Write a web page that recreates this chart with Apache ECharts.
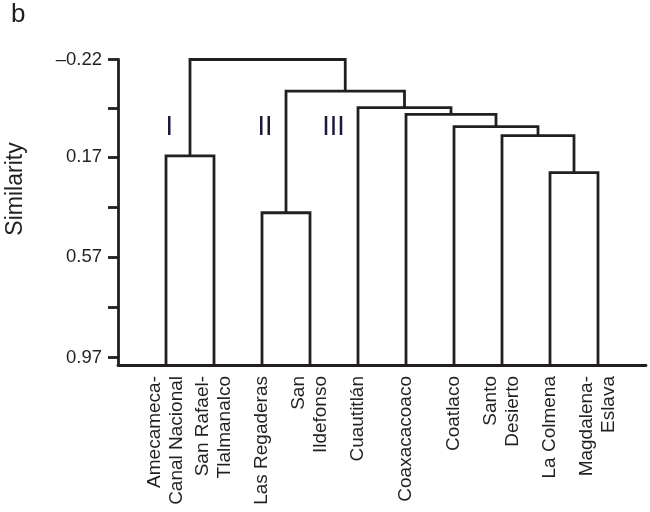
<!DOCTYPE html>
<html>
<head>
<meta charset="utf-8">
<script src="https://cdn.jsdelivr.net/npm/echarts@6/dist/echarts.min.js"></script>
<style>html,body{margin:0;padding:0;background:#fff}#chart{width:650px;height:512px}</style>
</head>
<body>
<div id="chart"></div>
<script>
const leafNames = ['Amecameca-\nCanal Nacional', 'San Rafael-\nTlalmanalco', 'Las Regaderas', 'San\nIldefonso', 'Cuautitlán', 'Coaxacacoaco', 'Coatlaco', 'Santo\nDesierto', 'La Colmena', 'Magdalena-\nEslava'];
// linkage: node ids 0..9 are leaves, 10.. are merges in order
const mergeLeft   = [8, 0, 2, 7, 6, 5, 4, 12, 11];
const mergeRight  = [9, 1, 3, 10, 13, 14, 15, 16, 17];
const mergeHeight = [0.232, 0.165, 0.392, 0.084, 0.048, -0.001, -0.0275, -0.094, -0.22];
const baseline = 1.0;
const tickValues = [-0.22, -0.025, 0.17, 0.37, 0.57, 0.77, 0.97];
const labelValues = [-0.22, 0.17, 0.57, 0.97];
const tickLabels = ['\u20130.22', '0.17', '0.57', '0.97'];
const clusterNames = ['I', 'II', 'III'];
const clusterX = [1.07, 3.06, 4.49];
const clusterY = [0.05, 0.05, 0.05];

const FONT = '"Liberation Sans", Arial, Helvetica, sans-serif';
const INK = '#231f20';

// build node positions from the linkage
const nodeX = leafNames.map((_, i) => i + 1);
const nodeY = leafNames.map(() => baseline);
const segs = [];
for (let i = 0; i < mergeLeft.length; i++) {
  const a = mergeLeft[i], b = mergeRight[i], h = mergeHeight[i];
  segs.push([nodeX[a], nodeY[a], nodeX[b], nodeY[b], h]);
  nodeX.push((nodeX[a] + nodeX[b]) / 2);
  nodeY.push(h);
}

const chart = echarts.init(document.getElementById('chart'), null, {renderer: 'canvas'});
chart.setOption({
  animation: false,
  backgroundColor: '#fff',
  grid: {left: 118, right: 4, top: 59.5, bottom: 147, containLabel: false},
  xAxis: {
    type: 'value', min: 0, max: 11, interval: 1,
    axisLine: {show: true, onZero: false, lineStyle: {color: INK, width: 2.8}},
    axisTick: {show: false},
    splitLine: {show: false},
    axisLabel: {
      customValues: leafNames.map((_, i) => i + 1),
      formatter: v => { const k = Math.round(v) - 1; return (k >= 0 && k < leafNames.length) ? leafNames[k] : ''; },
      rotate: 90, margin: 11, fontSize: 19, lineHeight: 22, color: INK, fontFamily: FONT,
      showMinLabel: true, showMaxLabel: true
    }
  },
  yAxis: {
    type: 'value', inverse: true, min: -0.22, max: baseline,
    axisLine: {show: true, onZero: false, lineStyle: {color: INK, width: 2.8}},
    axisTick: {show: true, customValues: tickValues, length: 10, lineStyle: {color: INK, width: 2.8}},
    splitLine: {show: false},
    axisLabel: {
      customValues: labelValues,
      formatter: v => { const k = labelValues.findIndex(t => Math.abs(t - v) < 1e-6); return k >= 0 ? tickLabels[k] : ''; },
      margin: 16, fontSize: 18.5, color: INK, fontFamily: FONT
    }
  },
  graphic: [
    {type: 'text', left: 11, top: 2, style: {text: 'b', fontSize: 26, fill: INK, fontFamily: FONT}},
    {type: 'text', x: 16, y: 189, rotation: Math.PI / 2,
     style: {text: 'Similarity', fontSize: 23, fill: INK, fontFamily: FONT, align: 'center', verticalAlign: 'middle'}}
  ],
  series: [
    {
      type: 'custom', clip: false, silent: true,
      data: segs,
      renderItem: (params, api) => {
        const x1 = api.value(0), y1 = api.value(1), x2 = api.value(2), y2 = api.value(3), h = api.value(4);
        const pts = [api.coord([x1, y1]), api.coord([x1, h]), api.coord([x2, h]), api.coord([x2, y2])];
        return {type: 'polyline', shape: {points: pts},
                style: {stroke: INK, lineWidth: 2.8, fill: null, lineJoin: 'miter'}};
      }
    },
    {
      type: 'custom', clip: false, silent: true,
      data: clusterNames.map((n, i) => [clusterX[i], clusterY[i], n]),
      renderItem: (params, api) => {
        const p = api.coord([api.value(0), api.value(1)]);
        return {type: 'text', x: p[0], y: p[1],
                style: {text: clusterNames[params.dataIndex], fontSize: 27, fill: '#1c1a3a', fontFamily: FONT,
                        align: 'center', verticalAlign: 'middle'}};
      }
    }
  ]
});
</script>
</body>
</html>
